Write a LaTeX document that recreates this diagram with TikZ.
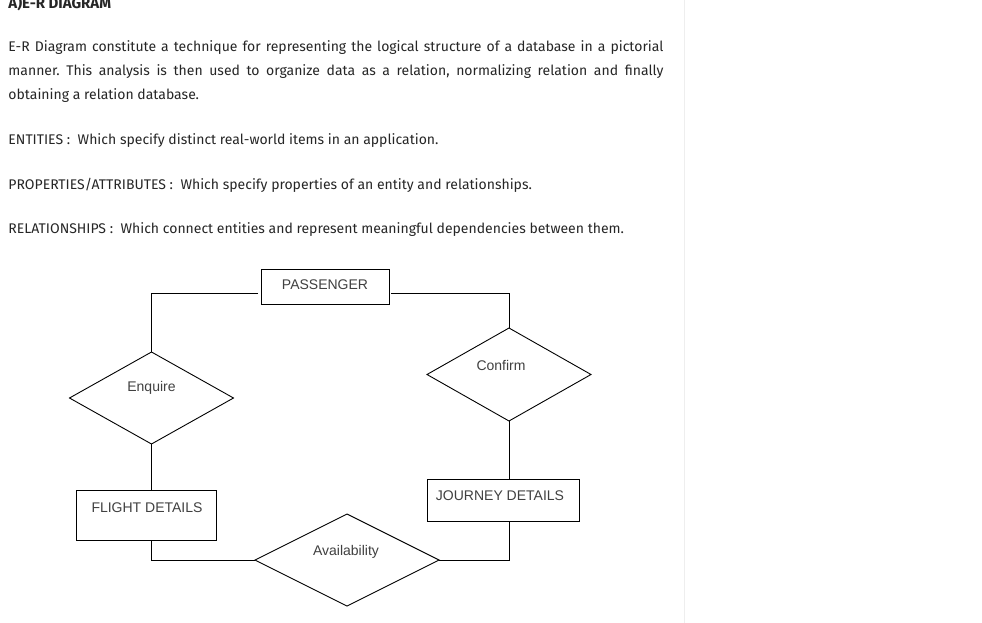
\documentclass[tikz,border=0pt]{standalone}
\usepackage{fontspec}
\setmainfont{Fira Sans}
\newfontfamily\diagfont{Liberation Sans}
\usetikzlibrary{shapes.geometric}
\definecolor{bodytext}{HTML}{262626}
\definecolor{sidebar}{HTML}{EEEEEE}
\frenchspacing
\tikzset{
	entity/.style={draw, rectangle, inner sep=0pt, outer sep=0pt},
	relation/.style={draw, diamond, inner sep=0pt, outer sep=0pt},
	tag/.style={font=\diagfont\fontsize{14}{16}\selectfont, text=black!75, inner sep=0pt},
	body/.style={font=\fontsize{14}{24}\selectfont, text=bodytext, inner sep=0pt, anchor=base west},
}
\begin{document}
\begin{tikzpicture}[x=1pt, y=-1pt, line width=0.9pt]
	\useasboundingbox[fill=white] (0,0) rectangle (982,623);
	\draw[sidebar, line width=1pt] (684.5,0) -- (684.5,623);

	\node[body, font=\bfseries\fontsize{15}{24}\selectfont] (title) at (8,9) {A)E-R DIAGRAM};
	\node[body, text width=655pt, align=justify] (intro) at (8,52) {E-R Diagram constitute a technique for representing the logical structure of a database in a pictorial\linebreak manner. This analysis is then used to organize data as a relation, normalizing relation and finally\linebreak obtaining a relation database.};
	\node[body] (entities) at (8,145) {ENTITIES :~ Which specify distinct real-world items in an application.};
	\node[body] (attributes) at (8,189) {PROPERTIES/ATTRIBUTES :~ Which specify properties of an entity and relationships.};
	\node[body] (relations) at (8,233) {RELATIONSHIPS :~ Which connect entities and represent meaningful dependencies between them.};

	\node[entity, minimum width=128pt, minimum height=35pt, label={[tag, yshift=1.5pt]center:PASSENGER}] (passenger) at (325,286.5) {};
	\node[entity, minimum width=140pt, minimum height=50pt, label={[tag, xshift=1pt, yshift=7pt]center:FLIGHT DETAILS}] (flight) at (146,515) {};
	\node[entity, minimum width=152pt, minimum height=42pt, label={[tag, xshift=-3pt, yshift=4pt]center:JOURNEY DETAILS}] (journey) at (503,500) {};

	\node[relation, minimum width=164pt, minimum height=92pt, label={[tag, yshift=10pt]center:Enquire}] (enquire) at (151.5,398) {};
	\node[relation, minimum width=164pt, minimum height=93pt, label={[tag, xshift=-8pt, yshift=9.5pt]center:Confirm}] (confirm) at (509,374.5) {};
	\node[relation, minimum width=184pt, minimum height=92pt, label={[tag, xshift=-1pt, yshift=8pt]center:Availability}] (availability) at (347,560) {};

	\draw ([xshift=-3pt, yshift=-6.5pt]passenger.west) -| (enquire.north);
	\draw ([xshift=2pt, yshift=-6.5pt]passenger.east) -| (confirm.north);
	\draw (enquire.south) -- (enquire.south |- flight.north);
	\draw (confirm.south) -- (confirm.south |- journey.north);
	\draw (enquire.south |- flight.south) |- (availability.west);
	\draw (confirm.south |- journey.south) |- (availability.east);
\end{tikzpicture}
\end{document}
